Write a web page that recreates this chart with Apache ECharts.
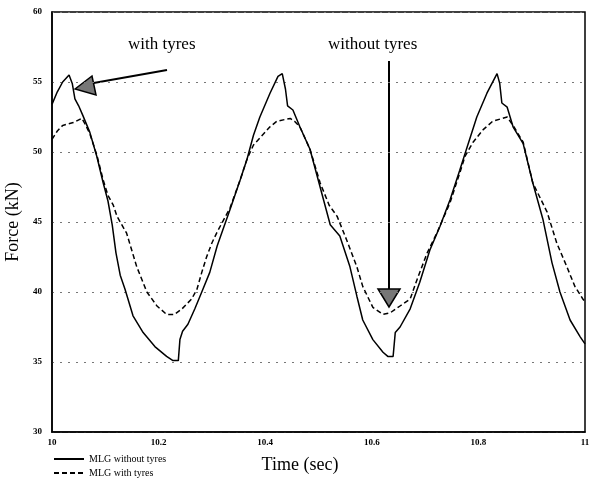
<!DOCTYPE html>
<html>
<head>
<meta charset="utf-8">
<script src="https://cdn.jsdelivr.net/npm/echarts@6/dist/echarts.min.js"></script>
<style>
  html, body { margin: 0; padding: 0; background: #fff; }
  #main { width: 592px; height: 484px; }
</style>
</head>
<body>
<div id="main"></div>
<script>
// data: [time (sec), force (kN)]
var withoutTyres = [
    [10.000, 53.4], [10.010, 54.3], [10.020, 55.0], [10.032, 55.5], [10.038, 54.9],
    [10.043, 53.8], [10.050, 53.3], [10.058, 52.6], [10.071, 51.4], [10.084, 49.7],
    [10.096, 47.8], [10.105, 46.5], [10.113, 44.8], [10.120, 42.8], [10.128, 41.2],
    [10.137, 40.2], [10.152, 38.3], [10.171, 37.1], [10.193, 36.1], [10.215, 35.4],
    [10.227, 35.1], [10.237, 35.1], [10.240, 36.6], [10.245, 37.2], [10.255, 37.7],
    [10.268, 38.8], [10.281, 40.0], [10.296, 41.4], [10.310, 43.3], [10.334, 45.9],
    [10.353, 48.0], [10.366, 49.5], [10.378, 51.2], [10.390, 52.5], [10.409, 54.2],
    [10.424, 55.4], [10.432, 55.6], [10.438, 54.5], [10.442, 53.3], [10.452, 53.0],
    [10.465, 51.8], [10.484, 50.2], [10.503, 47.5], [10.522, 44.8], [10.540, 44.0],
    [10.559, 41.8], [10.572, 39.7], [10.583, 38.0], [10.602, 36.6], [10.621, 35.7],
    [10.630, 35.4], [10.640, 35.4], [10.644, 37.1], [10.653, 37.5], [10.672, 38.8],
    [10.690, 40.7], [10.709, 43.0], [10.728, 44.7], [10.747, 46.6], [10.765, 48.7],
    [10.775, 49.9], [10.797, 52.5], [10.816, 54.2], [10.835, 55.6], [10.840, 54.9],
    [10.844, 53.5], [10.854, 53.2], [10.865, 51.8], [10.884, 50.6], [10.902, 47.8],
    [10.921, 45.2], [10.938, 42.1], [10.953, 40.0], [10.972, 38.0], [10.991, 36.8],
    [11.000, 36.3]
];
var withTyres = [
    [10.000, 50.9], [10.010, 51.5], [10.020, 51.9], [10.040, 52.1], [10.056, 52.4],
    [10.062, 52.0], [10.071, 51.3], [10.084, 49.8], [10.096, 48.0], [10.105, 46.9],
    [10.115, 46.2], [10.122, 45.4], [10.140, 44.2], [10.159, 41.8], [10.178, 40.0],
    [10.197, 39.0], [10.215, 38.4], [10.230, 38.4], [10.244, 38.8], [10.262, 39.5],
    [10.272, 40.2], [10.281, 41.4], [10.290, 42.5], [10.300, 43.5], [10.310, 44.3],
    [10.334, 46.0], [10.353, 48.0], [10.366, 49.5], [10.378, 50.5], [10.390, 51.0],
    [10.409, 51.8], [10.422, 52.2], [10.447, 52.4], [10.455, 52.2], [10.465, 51.8],
    [10.484, 50.2], [10.503, 47.8], [10.520, 46.2], [10.535, 45.4], [10.553, 43.7],
    [10.572, 41.8], [10.583, 40.4], [10.602, 38.9], [10.621, 38.4], [10.634, 38.5],
    [10.653, 39.0], [10.672, 39.5], [10.685, 40.9], [10.704, 42.8], [10.722, 44.2],
    [10.747, 46.4], [10.765, 48.5], [10.775, 49.7], [10.790, 50.7], [10.809, 51.6],
    [10.827, 52.2], [10.854, 52.5], [10.865, 51.9], [10.884, 50.7], [10.902, 47.8],
    [10.929, 45.7], [10.947, 43.5], [10.966, 41.8], [10.981, 40.4], [10.996, 39.5],
    [11.000, 39.3]
];
var seriesNames = ['MLG without tyres', 'MLG with tyres'];
var xTicks = ['10', '10.2', '10.4', '10.6', '10.8', '11'];
var yTicks = ['30', '35', '40', '45', '50', '55', '60'];

var serif = '"Liberation Serif", "DejaVu Serif", serif';

var chart = echarts.init(document.getElementById('main'));
var option = {
    backgroundColor: '#fff',
    animation: false,
    grid: {
        left: 52, right: 7, top: 12, bottom: 52,
        outerBoundsMode: 'none',
        containLabel: false,
        show: true, borderColor: '#000', borderWidth: 1.5
    },
    legend: {
        orient: 'vertical',
        left: 48, top: 449,
        itemWidth: 30, itemHeight: 10, itemGap: 4,
        itemStyle: { opacity: 0 },
        textStyle: { fontFamily: serif, fontSize: 10, color: '#000' },
        data: seriesNames
    },
    xAxis: {
        type: 'value',
        min: 10, max: 11, interval: 0.2,
        name: 'Time (sec)',
        nameLocation: 'middle',
        nameGap: 24,
        nameTextStyle: { fontFamily: serif, fontSize: 18, color: '#000', padding: [0, 37, 0, 0] },
        axisLine: { lineStyle: { color: '#000', width: 1.5 } },
        axisTick: { show: false },
        splitLine: { show: false },
        axisLabel: {
            fontFamily: serif, fontSize: 9, fontWeight: 'bold', color: '#000', margin: 6,
            formatter: function (v) { return xTicks[Math.round((v - 10) / 0.2)]; }
        }
    },
    yAxis: {
        type: 'value',
        min: 30, max: 60, interval: 5,
        name: 'Force (kN)',
        nameLocation: 'middle',
        nameGap: 24,
        nameTextStyle: { fontFamily: serif, fontSize: 18, color: '#000' },
        axisLine: { show: true, lineStyle: { color: '#000', width: 1.5 } },
        axisTick: { show: false },
        splitLine: { show: true, lineStyle: { color: '#777', width: 1, type: [2, 6] } },
        axisLabel: {
            fontFamily: serif, fontSize: 9, fontWeight: 'bold', color: '#000', margin: 10,
            formatter: function (v) { return yTicks[Math.round((v - 30) / 5)]; }
        }
    },
    series: [
        {
            name: seriesNames[0],
            type: 'line',
            symbol: 'none',
            data: withoutTyres,
            lineStyle: { color: '#000', width: 1.5, type: 'solid' },
            itemStyle: { color: '#000' }
        },
        {
            name: seriesNames[1],
            type: 'line',
            symbol: 'none',
            data: withTyres,
            lineStyle: { color: '#000', width: 1.5, type: [5, 3] },
            itemStyle: { color: '#000' }
        }
    ],
    graphic: [
        { type: 'text', left: 128, top: 36, style: { text: 'with tyres', font: '17px ' + serif, fill: '#000' } },
        { type: 'line', shape: { x1: 167, y1: 70, x2: 88, y2: 84 }, style: { stroke: '#000', lineWidth: 2 } },
        { type: 'polygon', shape: { points: [[75, 89], [92, 76], [96, 95]] }, style: { fill: '#777', stroke: '#000', lineWidth: 1.5 } },
        { type: 'text', left: 328, top: 36, style: { text: 'without tyres', font: '17px ' + serif, fill: '#000' } },
        { type: 'line', shape: { x1: 389, y1: 61, x2: 389, y2: 289 }, style: { stroke: '#000', lineWidth: 2 } },
        { type: 'polygon', shape: { points: [[378, 289], [400, 289], [389, 307]] }, style: { fill: '#777', stroke: '#000', lineWidth: 1.5 } }
    ]
};
chart.setOption(option);
</script>
</body>
</html>
